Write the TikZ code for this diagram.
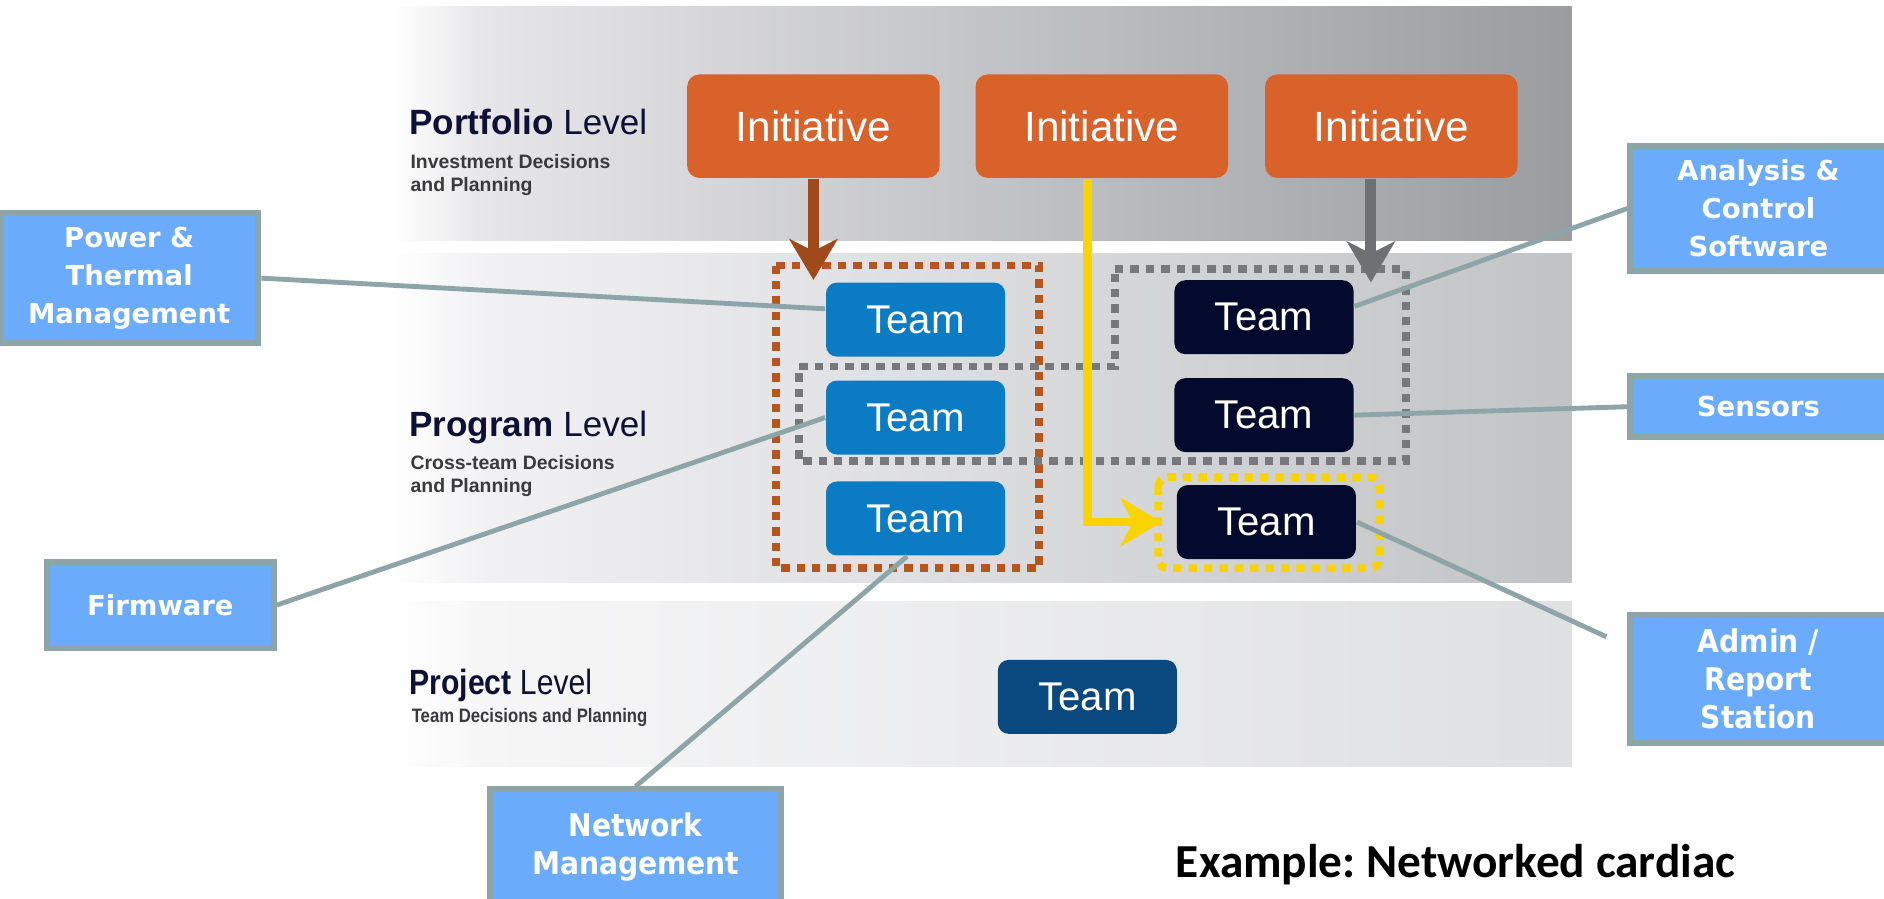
\documentclass[tikz,border=0pt]{standalone}
\usepackage{fontspec}
\setmainfont{Liberation Sans}
\newfontfamily\narrowfont[FakeStretch=0.86]{Liberation Sans}
\newfontfamily\boxfont{DejaVu Sans}
\newfontfamily\boxcondfont{DejaVu Sans Condensed}
\newfontfamily\notefont{Carlito}
\usetikzlibrary{arrows.meta,positioning}
\frenchspacing

\definecolor{initorange}{HTML}{D9622B}
\definecolor{teamblue}{HTML}{0B7CC3}
\definecolor{teamnavy}{HTML}{030A2D}
\definecolor{projblue}{HTML}{0A4880}
\definecolor{tagfill}{HTML}{6AACFB}
\definecolor{tagline}{HTML}{8DA5A8}
\definecolor{dotbrown}{HTML}{B5561E}
\definecolor{dotgray}{HTML}{77787B}
\definecolor{dotyellow}{HTML}{FAD400}
\definecolor{arrbrown}{HTML}{9E4A1B}
\definecolor{arrgray}{HTML}{6F7074}
\definecolor{levelnavy}{HTML}{0E1136}
\definecolor{subgray}{HTML}{3A3A3C}
\definecolor{pfA}{HTML}{E6E6E8}
\definecolor{pfB}{HTML}{9B9CA0}
\definecolor{pgA}{HTML}{F1F1F3}
\definecolor{pgB}{HTML}{C2C3C5}
\definecolor{pjA}{HTML}{F6F6F7}
\definecolor{pjB}{HTML}{DFE0E2}

\pgfdeclarehorizontalshading{portfolioshade}{100bp}{color(0bp)=(white); color(25bp)=(white); color(29bp)=(pfA); color(75bp)=(pfB); color(100bp)=(pfB)}
\pgfdeclarehorizontalshading{programshade}{100bp}{color(0bp)=(white); color(25bp)=(white); color(29bp)=(pgA); color(75bp)=(pgB); color(100bp)=(pgB)}
\pgfdeclarehorizontalshading{projectshade}{100bp}{color(0bp)=(white); color(25bp)=(white); color(29bp)=(pjA); color(75bp)=(pjB); color(100bp)=(pjB)}

\begin{document}
\begin{tikzpicture}[x=0.01cm,y=-0.01cm]
  \tikzstyle{initbox}=[rectangle,rounded corners=0.1cm,fill=initorange,text=white,minimum width=2.1cm,minimum height=0.86cm,font=\fontsize{10}{12}\selectfont]
  \tikzstyle{teambox}=[rectangle,rounded corners=0.09cm,text=white,minimum width=1.49cm,minimum height=0.615cm,font=\fontsize{9.5}{11}\selectfont]
  \tikzstyle{tagbox}=[rectangle,fill=tagfill,draw=tagline,line width=1.4pt,text=white,align=center,font=\boxfont\bfseries\fontsize{6.5}{9}\selectfont]
  \tikzstyle{tagcond}=[tagbox,font=\boxcondfont\bfseries\fontsize{7.4}{9}\selectfont]
  \tikzstyle{pointer}=[draw=tagline,line width=1.15pt]
  \tikzstyle{dotbox}=[line width=1.85pt,dash pattern=on 0.07cm off 0.058cm]
  \tikzstyle{feed}=[-{Stealth[length=0.34cm,width=0.40cm,inset=0.1cm]},line width=2.6pt]
  \tikzstyle{heading}=[anchor=base west,inner sep=0pt,text=levelnavy,font=\fontsize{8.3}{10}\selectfont]
  \tikzstyle{subtitle}=[anchor=north west,inner sep=0pt,align=left,text=subgray,font=\bfseries\fontsize{4.6}{5.5}\selectfont]
  \fill[white] (0,0) rectangle (1568,747.4);
  \useasboundingbox (0,0) rectangle (1568,747.4);
  % level bands
  \shade[shading=portfolioshade] (325,5) rectangle (1308,200);
  \shade[shading=programshade] (325,211) rectangle (1308,485);
  \shade[shading=projectshade] (325,501) rectangle (1308,638);
  \node[heading] (portfolio) at (340,112) {\textbf{Portfolio} Level};
  \node[subtitle] (portfoliosub) at (341,127.5) {Investment Decisions\\ and Planning};
  \node[heading] (program) at (340,363) {\textbf{Program} Level};
  \node[subtitle] (programsub) at (341,378) {Cross-team Decisions\\ and Planning};
  \node[heading,font=\narrowfont\fontsize{8.3}{10}\selectfont] (project) at (340,578) {\textbf{Project} Level};
  \node[subtitle,font=\narrowfont\bfseries\fontsize{4.6}{5.5}\selectfont] (projectsub) at (342,589) {Team Decisions and Planning};
  % initiatives and teams
  \node[initbox] (I1) at (677,105) {Initiative};
  \node[initbox] (I2) at (917,105) {Initiative};
  \node[initbox] (I3) at (1158,105) {Initiative};
  \node[teambox,fill=teamblue] (TA) at (762,266) {Team};
  \node[teambox,fill=teamblue] (TB) at (762,347.5) {Team};
  \node[teambox,fill=teamblue] (TC) at (762,431.5) {Team};
  \node[teambox,fill=teamnavy] (TD) at (1052,264) {Team};
  \node[teambox,fill=teamnavy] (TE) at (1052,345.5) {Team};
  \node[teambox,fill=teamnavy] (TF) at (1054,434.5) {Team};
  \node[teambox,fill=projblue] (TP) at (905,580) {Team};
  % groupings
  \draw[dotbox,draw=dotbrown] (646,221) rectangle (865,473);
  \draw[dotbox,draw=dotgray] (928,224) -- (1170,224) -- (1170,384) -- (665,384) -- (665,305) -- (928,305) -- cycle;
  \draw[dotbox,draw=dotyellow,rounded corners=0.08cm] (964,397) rectangle (1148,473);
  \coordinate (brownTip) at (677,233);
  \coordinate (grayTip) at (1141,235);
  \draw[feed,draw=arrbrown] (I1.south) -- (brownTip);
  \draw[feed,draw=arrgray] (I3.south -| grayTip) -- (grayTip);
  \draw[feed,draw=dotyellow,line width=2pt] ([xshift=-0.12cm]I2.south) |- ([xshift=-0.12cm]TF.west);
  % subsystem tags
  \node[tagbox,minimum width=2.15cm,minimum height=1.07cm] (power) at (107.5,231.5) {Power \&\\Thermal\\Management};
  \node[tagbox,minimum width=1.89cm,minimum height=0.71cm] (firmware) at (133.5,503.5) {Firmware};
  \node[tagcond,minimum width=2.42cm,minimum height=0.96cm] (network) at (529,705) {Network\\Management};
  \node[tagbox,minimum width=2.13cm,minimum height=1.03cm] (analysis) at (1463.5,173.5) {Analysis \&\\Control\\Software};
  \node[tagbox,minimum width=2.13cm,minimum height=0.51cm] (sensors) at (1463.5,338.5) {Sensors};
  \node[tagcond,minimum width=2.13cm,minimum height=1.0cm] (admin) at (1463.5,565) {Admin /\\Report\\Station};
  \coordinate (adminEnd) at (1337,530);
  \draw[pointer] (power.east) -- ([yshift=0.09cm]TA.west);
  \draw[pointer] (firmware.east) -- (TB.west);
  \draw[pointer] (network.north) -- ([xshift=-0.07cm]TC.south);
  \draw[pointer] (analysis.west) -- ([yshift=0.09cm]TD.east);
  \draw[pointer] (sensors.west) -- (TE.east);
  \draw[pointer] (TF.east) -- (adminEnd);
  \node[anchor=base west,inner sep=0pt,font=\notefont\bfseries\fontsize{11.2}{13}\selectfont] (example) at (978,730) {Example: Networked cardiac};
\end{tikzpicture}
\end{document}
